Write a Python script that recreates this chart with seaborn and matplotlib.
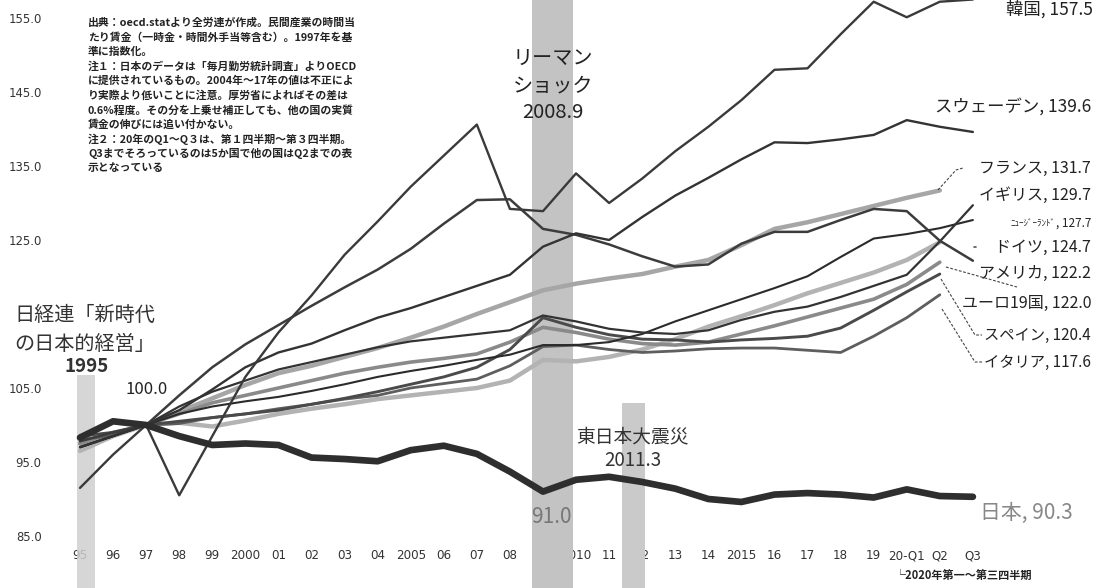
import numpy as np
import pandas as pd
import matplotlib
matplotlib.use("Agg")
import matplotlib.pyplot as plt
import seaborn as sns
from matplotlib.patches import Rectangle
from matplotlib.lines import Line2D

# ---------------- data ----------------
periods = ["95", "96", "97", "98", "99", "2000", "01", "02", "03", "04", "2005", "06", "07", "08",
           "09", "2010", "11", "12", "13", "14", "2015", "16", "17", "18", "19", "20-Q1", "Q2", "Q3"]

japan = [98.3, 100.5, 100.0, 98.5, 97.3, 97.5, 97.3, 95.6, 95.4, 95.1, 96.6, 97.2, 96.1, 93.7,
         91.0, 92.6, 93.0, 92.3, 91.4, 90.0, 89.6, 90.6, 90.8, 90.6, 90.2, 91.3, 90.4, 90.3]
korea = [91.5, 96.0, 100.0, 90.5, 98.5, 106.5, 112.5, 117.5, 123.0, 127.5, 132.2, 136.4, 140.6, 129.2,
         128.9, 134.0, 130.0, 133.3, 137.0, 140.3, 143.9, 148.0, 148.2, 152.8, 157.2, 155.1, 157.2, 157.5]
sweden = [97.0, 98.5, 100.0, 102.0, 104.8, 107.8, 109.8, 111.0, 112.8, 114.5, 115.8, 117.3, 118.8, 120.3,
          124.1, 125.9, 125.0, 128.1, 131.0, 133.4, 135.9, 138.2, 138.1, 138.6, 139.2, 141.2, 140.3, 139.6]
usa = [97.8, 99.0, 100.0, 104.0, 107.8, 110.9, 113.5, 116.1, 118.6, 121.0, 123.8, 127.2, 130.4, 130.5,
       126.5, 125.7, 124.4, 122.8, 121.4, 121.7, 124.5, 126.1, 126.1, 127.7, 129.2, 128.9, 124.9, 122.2]
uk = [97.0, 98.5, 100.0, 102.5, 104.5, 106.0, 107.5, 108.5, 109.5, 110.5, 111.3, 111.8, 112.3, 112.8,
      114.8, 114.0, 113.0, 112.5, 112.3, 112.8, 114.2, 115.3, 116.0, 117.3, 118.8, 120.3, 124.8, 129.7]
nz = [97.0, 98.5, 100.0, 101.5, 102.5, 103.2, 103.8, 104.6, 105.5, 106.5, 107.3, 108.0, 108.8, 109.5,
      110.8, 110.8, 111.2, 112.3, 114.0, 115.5, 117.0, 118.5, 120.1, 122.7, 125.2, 125.8, 126.6, 127.7]
france = [97.5, 98.8, 100.0, 101.8, 103.6, 105.4, 107.0, 108.0, 109.2, 110.4, 111.8, 113.3, 115.0, 116.6,
          118.2, 119.1, 119.8, 120.4, 121.4, 122.3, 124.3, 126.5, 127.4, 128.5, 129.6, 130.7, 131.7, np.nan]
germany = [96.5, 98.5, 100.0, 100.3, 99.8, 100.6, 101.5, 102.2, 102.8, 103.5, 104.0, 104.5, 105.0, 106.0,
           108.8, 108.6, 109.2, 110.2, 111.6, 113.3, 114.7, 116.2, 117.8, 119.2, 120.6, 122.3, 124.7, np.nan]
euro19 = [97.5, 99.0, 100.0, 101.5, 103.0, 104.0, 105.0, 106.0, 107.0, 107.8, 108.5, 109.0, 109.6, 111.2,
          113.2, 112.5, 111.6, 111.0, 110.8, 111.2, 112.3, 113.4, 114.6, 115.8, 117.0, 119.0, 122.0, np.nan]
spain = [98.5, 99.0, 100.0, 100.5, 101.0, 101.5, 102.0, 102.8, 103.6, 104.5, 105.5, 106.5, 107.8, 110.2,
         114.5, 113.2, 112.2, 111.6, 111.5, 111.2, 111.5, 111.7, 112.0, 113.1, 115.5, 118.0, 120.4, np.nan]
italy = [98.0, 98.6, 100.0, 100.2, 101.0, 101.5, 102.2, 102.8, 103.5, 104.0, 105.0, 105.6, 106.2, 108.0,
         110.6, 110.8, 110.2, 109.8, 110.0, 110.3, 110.4, 110.4, 110.1, 109.8, 112.0, 114.5, 117.6, np.nan]

yticks = [85, 95, 105, 125, 135, 145, 155]

series = {
    "韓国": korea, "スウェーデン": sweden, "フランス": france, "イギリス": uk,
    "ニュージーランド": nz, "ドイツ": germany, "アメリカ": usa, "ユーロ19国": euro19,
    "スペイン": spain, "イタリア": italy, "日本": japan,
}

# ---------------- styling ----------------
sns.set_theme(style="white")
plt.rcParams['font.family'] = ['Noto Sans CJK JP', 'DejaVu Sans']
plt.rcParams['axes.unicode_minus'] = False

W, H = 1096, 588
fig = plt.figure(figsize=(W / 100, H / 100), dpi=100)
fig.patch.set_facecolor('white')
AX_L, AX_B = 75, 545
ax = fig.add_axes([AX_L / W, 1 - AX_B / H, 1 - AX_L / W, AX_B / H])
ax.set_facecolor('white')
ax.set_axisbelow(True)


def P(x, y):
    """image pixel -> figure fraction"""
    return x / W, 1 - y / H


df = pd.DataFrame({"pos": np.arange(len(periods)), "period": periods, **series})
long = df.melt(id_vars=["pos", "period"], var_name="country", value_name="value").dropna()

styles = {
    "ドイツ": ("#b3b3b3", 3.2, 2.0),
    "フランス": ("#a6a6a6", 3.2, 2.1),
    "ユーロ19国": ("#8a8a8a", 2.6, 2.2),
    "イタリア": ("#5e5e5e", 2.0, 2.3),
    "スペイン": ("#4a4a4a", 2.1, 2.4),
    "ニュージーランド": ("#2b2b2b", 1.5, 2.5),
    "イギリス": ("#333333", 1.6, 2.6),
    "アメリカ": ("#3c3c3c", 1.8, 2.7),
    "スウェーデン": ("#333333", 1.7, 2.8),
    "韓国": ("#3a3a3a", 1.7, 2.9),
    "日本": ("#2e2e2e", 4.8, 3.0),
}
for name, (col, lw, z) in styles.items():
    sub = long[long["country"] == name]
    sns.lineplot(data=sub, x="pos", y="value", color=col, linewidth=lw, ax=ax,
                 zorder=z, legend=False, estimator=None, sort=False)

# axes scales
x_of = lambda px: (px - 80) / 33.07
v_of = lambda py: 100 + (425 - py) / 7.4
ax.set_xlim(x_of(AX_L), x_of(W))
ax.set_ylim(v_of(AX_B), v_of(0))
ax.set_xticks(range(len(periods)))
ax.set_xticklabels(periods, fontsize=8.6, color="#333333", fontfamily="DejaVu Sans")
ax.set_yticks(yticks)
ax.set_yticklabels([f"{v:.1f}" for v in yticks], fontsize=8.4, color="#333333", fontfamily="DejaVu Sans")
ax.tick_params(axis="x", length=0, pad=3)
ax.tick_params(axis="y", length=0, pad=24)
ax.set_xlabel("")
ax.set_ylabel("")
ax.grid(False)
sns.despine(ax=ax, left=True, bottom=True)

# event bars (extend below the axis over the tick labels)
bars = [(77, 95, 375, 588, "#cfcfcf", 0.85), (532, 573, 0, 588, "#c3c3c3", 1.0),
        (622, 645, 403, 588, "#cacaca", 1.0)]
for x0, x1, y0, y1, c, a in bars:
    fx, fy = P(x0, y1)
    ax.add_patch(Rectangle((fx, fy), (x1 - x0) / W, (y1 - y0) / H, transform=fig.transFigure,
                           facecolor=c, edgecolor="none", alpha=a, zorder=0.8, clip_on=False))

# note block
notes = [
    "出典：oecd.statより全労連が作成。民間産業の時間当",
    "たり賃金（一時金・時間外手当等含む）。1997年を基",
    "準に指数化。",
    "注１：日本のデータは「毎月勤労統計調査」よりOECD",
    "に提供されているもの。2004年～17年の値は不正によ",
    "り実際より低いことに注意。厚労省によればその差は",
    "0.6%程度。その分を上乗せ補正しても、他の国の実質",
    "賃金の伸びには追い付かない。",
    "注２：20年のQ1～Q３は、第１四半期～第３四半期。",
    "Q3までそろっているのは5か国で他の国はQ2までの表",
    "示となっている",
]
for i, line in enumerate(notes):
    fig.text(*P(88, 23 + i * 14.5), line, fontsize=7.8, fontweight="bold", color="#222222",
             va="center", ha="left")

# event annotations
fig.text(*P(14, 315), "日経連「新時代", fontsize=14.5, color="#333333", va="center", ha="left")
fig.text(*P(14, 345), "の日本的経営」", fontsize=14.5, color="#333333", va="center", ha="left")
fig.text(*P(87, 367), "1995", fontsize=13.5, fontweight="semibold", color="#333333", va="center", ha="center")
fig.text(*P(147, 390), "100.0", fontsize=12, color="#222222", va="center", ha="center")
fig.text(*P(553, 58), "リーマン", fontsize=14.5, color="#222222", va="center", ha="center")
fig.text(*P(553, 86), "ショック", fontsize=14.5, color="#222222", va="center", ha="center")
fig.text(*P(553, 113), "2008.9", fontsize=14.5, color="#222222", va="center", ha="center")
fig.text(*P(632, 437), "東日本大震災", fontsize=13.5, color="#333333", va="center", ha="center")
fig.text(*P(633, 460), "2011.3", fontsize=13.5, color="#333333", va="center", ha="center")
fig.text(*P(551, 517), f"{japan[periods.index('09')]:.1f}", fontsize=15, color="#777777",
         va="center", ha="center")
fig.text(*P(895, 575), "└2020年第一～第三四半期", fontsize=8, fontweight="bold", color="#222222",
         va="center", ha="left")

# end labels
last = {k: [v for v in vals if not np.isnan(v)][-1] for k, vals in series.items()}
end_labels = [
    ("韓国", 1093, 9, 12.5), ("スウェーデン", 1091, 107, 12.5), ("フランス", 1091, 168, 11.5),
    ("イギリス", 1091, 195, 11.5), ("ドイツ", 1091, 247, 11.5), ("アメリカ", 1091, 273, 11.5),
    ("ユーロ19国", 1091, 303, 11.5), ("スペイン", 1091, 335, 11), ("イタリア", 1091, 362, 11),
]
for name, x, y, fs in end_labels:
    fig.text(*P(x, y), f"{name}, {last[name]:.1f}", fontsize=fs, color="#222222", va="center", ha="right")
fig.text(*P(1056, 223), "ﾆｭｰｼﾞｰﾗﾝﾄﾞ", fontsize=6.5, color="#222222", va="center", ha="right")
fig.text(*P(1091, 223), f", {last['ニュージーランド']:.1f}", fontsize=8.5, color="#222222", va="center", ha="right")
fig.text(*P(980, 513), f"日本, {last['日本']:.1f}", fontsize=15, color="#888888", va="center", ha="left")

# leader lines
leaders = [
    [(938, 190), (956, 170), (963, 168)],
    [(941, 279), (975, 335), (982, 335)],
    [(942, 309), (975, 362), (982, 362)],
    [(946, 267), (1017, 287)],
]
for pts in leaders:
    xs, ys = zip(*[P(px, py) for px, py in pts])
    fig.add_artist(Line2D(xs, ys, color="#444444", lw=0.8, linestyle=(0, (2.5, 1.5))))
fig.add_artist(Line2D(*zip(P(974, 247), P(976, 247)), color="#555555", lw=1.2))

fig.savefig("out.png", dpi=100, facecolor="white")
